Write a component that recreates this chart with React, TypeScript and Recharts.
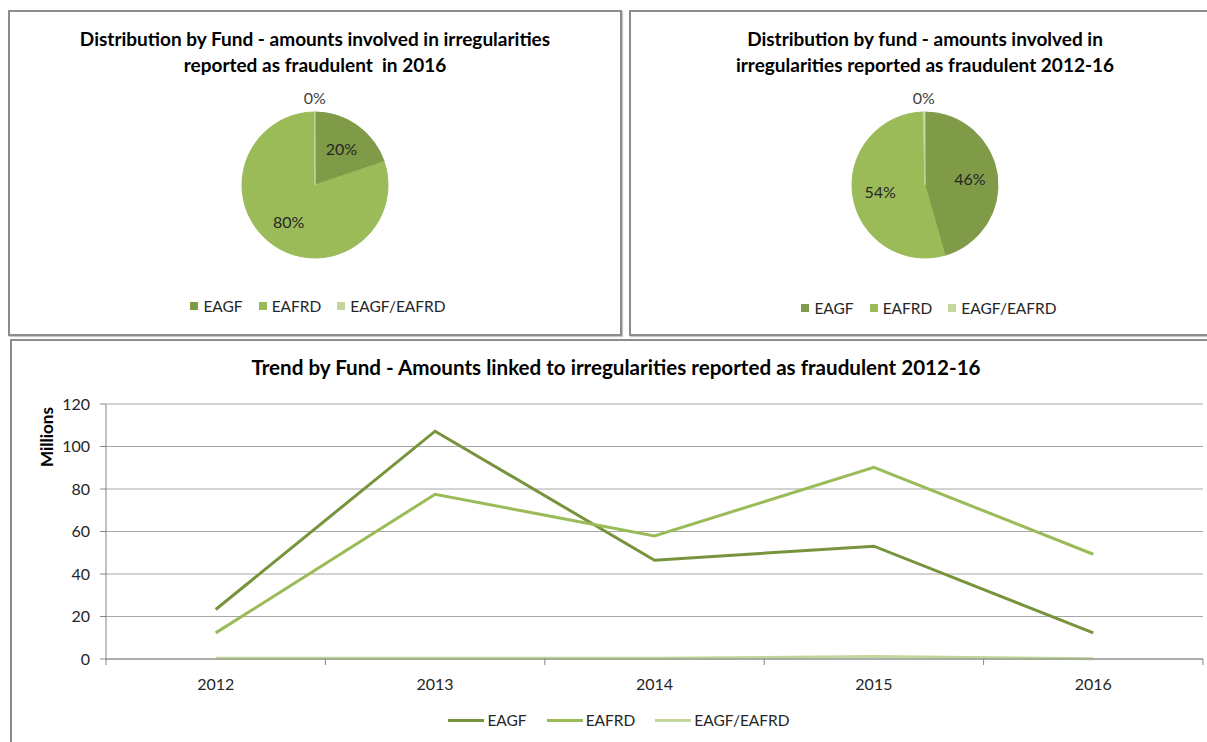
import React from 'react';
import { PieChart, Pie, Cell, LineChart, Line, XAxis, YAxis, CartesianGrid } from 'recharts';

// fund categories and colours
const funds = ['EAGF', 'EAFRD', 'EAGF/EAFRD'];
const pieColors = ['#7f9b48', '#9bbb59', '#c3d69b'];
const lineColors = ['#77933c', '#9bbb59', '#c3d69b'];

// pie shares (%)
const share2016 = [19.8, 80.1, 0.1];
const share2012to16 = [45.6, 54.0, 0.4];

// trend, millions
const years = ['2012', '2013', '2014', '2015', '2016'];
const eagf = [23.3, 107.2, 46.5, 53.1, 12.3];
const eafrd = [12.3, 77.5, 57.9, 90.2, 49.3];
const eagfEafrd = [0.4, 0.3, 0.3, 1.2, 0.1];
const yTicks = [0, 20, 40, 60, 80, 100, 120];

const trendRows = years.map((year, i) => ({
  idx: i,
  year,
  eagf: eagf[i],
  eafrd: eafrd[i],
  eagfEafrd: eagfEafrd[i],
}));

// category centres + boundaries (boundaries get the little tick marks)
const xTicks = years.flatMap((_, i) => [i - 0.5, i]).concat(years.length - 0.5);

const RAD = Math.PI / 180;
const FONT = 'Lato, "Open Sans", sans-serif';
const TEXT = '#262626';

const renderPieLabel = (p: any) => {
  const { cx, cy, midAngle, outerRadius, percent, index } = p;
  const outside = index === 2;
  const r = outside ? outerRadius + 15 : outerRadius * 0.62;
  const x = cx + r * Math.cos(-midAngle * RAD);
  const y = cy + r * Math.sin(-midAngle * RAD);
  return (
    <text x={x} y={y} textAnchor="middle" dominantBaseline="central" fontSize={16} fill={outside ? '#404040' : TEXT}>
      {Math.round(percent * 100)}%
    </text>
  );
};

const XTick = (props: any) => {
  const { x, y, payload } = props;
  const v = payload.value;
  if (Number.isInteger(v)) {
    return (
      <text x={x} y={y + 23} textAnchor="middle" fontSize={16} fill={TEXT}>
        {years[v]}
      </text>
    );
  }
  return <line x1={x} x2={x} y1={y - 8} y2={y - 2} stroke="#868686" />;
};

const panelStyle = (left: number, top: number, width: number, height: number): React.CSSProperties => ({
  position: 'absolute',
  left,
  top,
  width,
  height,
  boxSizing: 'border-box',
  border: '2px solid #8c8c8c',
  boxShadow: '1px 1px 1px #c8c8c8',
  background: '#fff',
});

const PieLegend = ({ left, top, width }: { left: number; top: number; width: number }) => (
  <div style={{ position: 'absolute', left, top, width, display: 'flex', justifyContent: 'center', alignItems: 'center', gap: 16, fontSize: 15.5, color: TEXT }}>
    {funds.map((f, i) => (
      <div key={f} style={{ display: 'flex', alignItems: 'center', gap: 5 }}>
        <span style={{ width: 8, height: 8, background: pieColors[i], display: 'inline-block' }} />
        <span>{f}</span>
      </div>
    ))}
  </div>
);

const Title = ({ left, top, width, lines, size }: { left: number; top: number; width: number; lines: string[]; size: number }) => (
  <div style={{ position: 'absolute', left, top, width, textAlign: 'center', fontWeight: 700, fontSize: size, lineHeight: '26px', color: '#000', whiteSpace: 'pre' }}>
    {lines.map((l) => (
      <div key={l}>{l}</div>
    ))}
  </div>
);

export default function App() {
  return (
    <div style={{ position: 'absolute', left: 0, top: 0, width: 1207, height: 742, overflow: 'hidden', background: '#fff', fontFamily: FONT }}>
      <div style={panelStyle(8, 10, 614, 326)} />
      <div style={panelStyle(629, 10, 600, 326)} />
      <div style={panelStyle(10, 339, 1210, 420)} />

      {/* pie 2016 */}
      <Title left={8} top={26} width={614} size={19} lines={['Distribution by Fund - amounts involved in irregularities', 'reported as fraudulent  in 2016']} />
      <div style={{ position: 'absolute', left: 8, top: 10 }}>
        <PieChart width={614} height={326}>
          <Pie
            data={funds.map((f, i) => ({ name: f, value: share2016[i] }))}
            dataKey="value"
            cx={302}
            cy={170}
            outerRadius={73}
            startAngle={90}
            endAngle={-270}
            label={renderPieLabel}
            labelLine={false}
            isAnimationActive={false}
          >
            {funds.map((f, i) => (
              <Cell key={f} fill={pieColors[i]} stroke={pieColors[i]} />
            ))}
          </Pie>
        </PieChart>
      </div>
      <PieLegend left={8} top={297} width={620} />

      {/* pie 2012-16 */}
      <Title left={629} top={26} width={592} size={19} lines={['Distribution by fund - amounts involved in', 'irregularities reported as fraudulent 2012-16']} />
      <div style={{ position: 'absolute', left: 629, top: 10 }}>
        <PieChart width={578} height={326}>
          <Pie
            data={funds.map((f, i) => ({ name: f, value: share2012to16[i] }))}
            dataKey="value"
            cx={291}
            cy={170}
            outerRadius={73}
            startAngle={90}
            endAngle={-270}
            label={renderPieLabel}
            labelLine={false}
            isAnimationActive={false}
          >
            {funds.map((f, i) => (
              <Cell key={f} fill={pieColors[i]} stroke={pieColors[i]} />
            ))}
          </Pie>
        </PieChart>
      </div>
      <PieLegend left={629} top={299} width={600} />

      {/* trend */}
      <Title left={10} top={354} width={1212} size={20.6} lines={['Trend by Fund - Amounts linked to irregularities reported as fraudulent 2012-16']} />
      <div style={{ position: 'absolute', left: 46, top: 437, transform: 'translate(-50%, -50%) rotate(-90deg)', fontWeight: 700, fontSize: 17, color: '#000' }}>
        Millions
      </div>
      <div style={{ position: 'absolute', left: 0, top: 340 }}>
        <LineChart width={1207} height={402} data={trendRows} margin={{ top: 64, right: 4, bottom: 53, left: 0 }}>
          <CartesianGrid vertical={false} stroke="#a6a6a6" />
          <XAxis
            type="number"
            dataKey="idx"
            domain={[-0.5, 4.5]}
            ticks={xTicks}
            interval={0}
            allowDecimals
            tickLine={false}
            axisLine={{ stroke: '#868686' }}
            height={30}
            tick={<XTick />}
          />
          <YAxis
            domain={[0, 120]}
            ticks={yTicks}
            interval={0}
            width={106}
            tickSize={6}
            tickMargin={10}
            axisLine={{ stroke: '#868686' }}
            tickLine={{ stroke: '#868686' }}
            tick={{ fill: TEXT, fontSize: 16 }}
          />
          <Line type="linear" dataKey="eagf" name="EAGF" stroke={lineColors[0]} strokeWidth={3} dot={false} isAnimationActive={false} />
          <Line type="linear" dataKey="eafrd" name="EAFRD" stroke={lineColors[1]} strokeWidth={3} dot={false} isAnimationActive={false} />
          <Line type="linear" dataKey="eagfEafrd" name="EAGF/EAFRD" stroke={lineColors[2]} strokeWidth={3} dot={false} isAnimationActive={false} />
        </LineChart>
      </div>
      <div style={{ position: 'absolute', left: 0, top: 711, width: 1238, display: 'flex', justifyContent: 'center', alignItems: 'center', gap: 20, fontSize: 15.5, color: TEXT }}>
        {funds.map((f, i) => (
          <div key={f} style={{ display: 'flex', alignItems: 'center', gap: 3 }}>
            <span style={{ width: 36, height: 3, background: lineColors[i], display: 'inline-block' }} />
            <span>{f}</span>
          </div>
        ))}
      </div>
    </div>
  );
}
